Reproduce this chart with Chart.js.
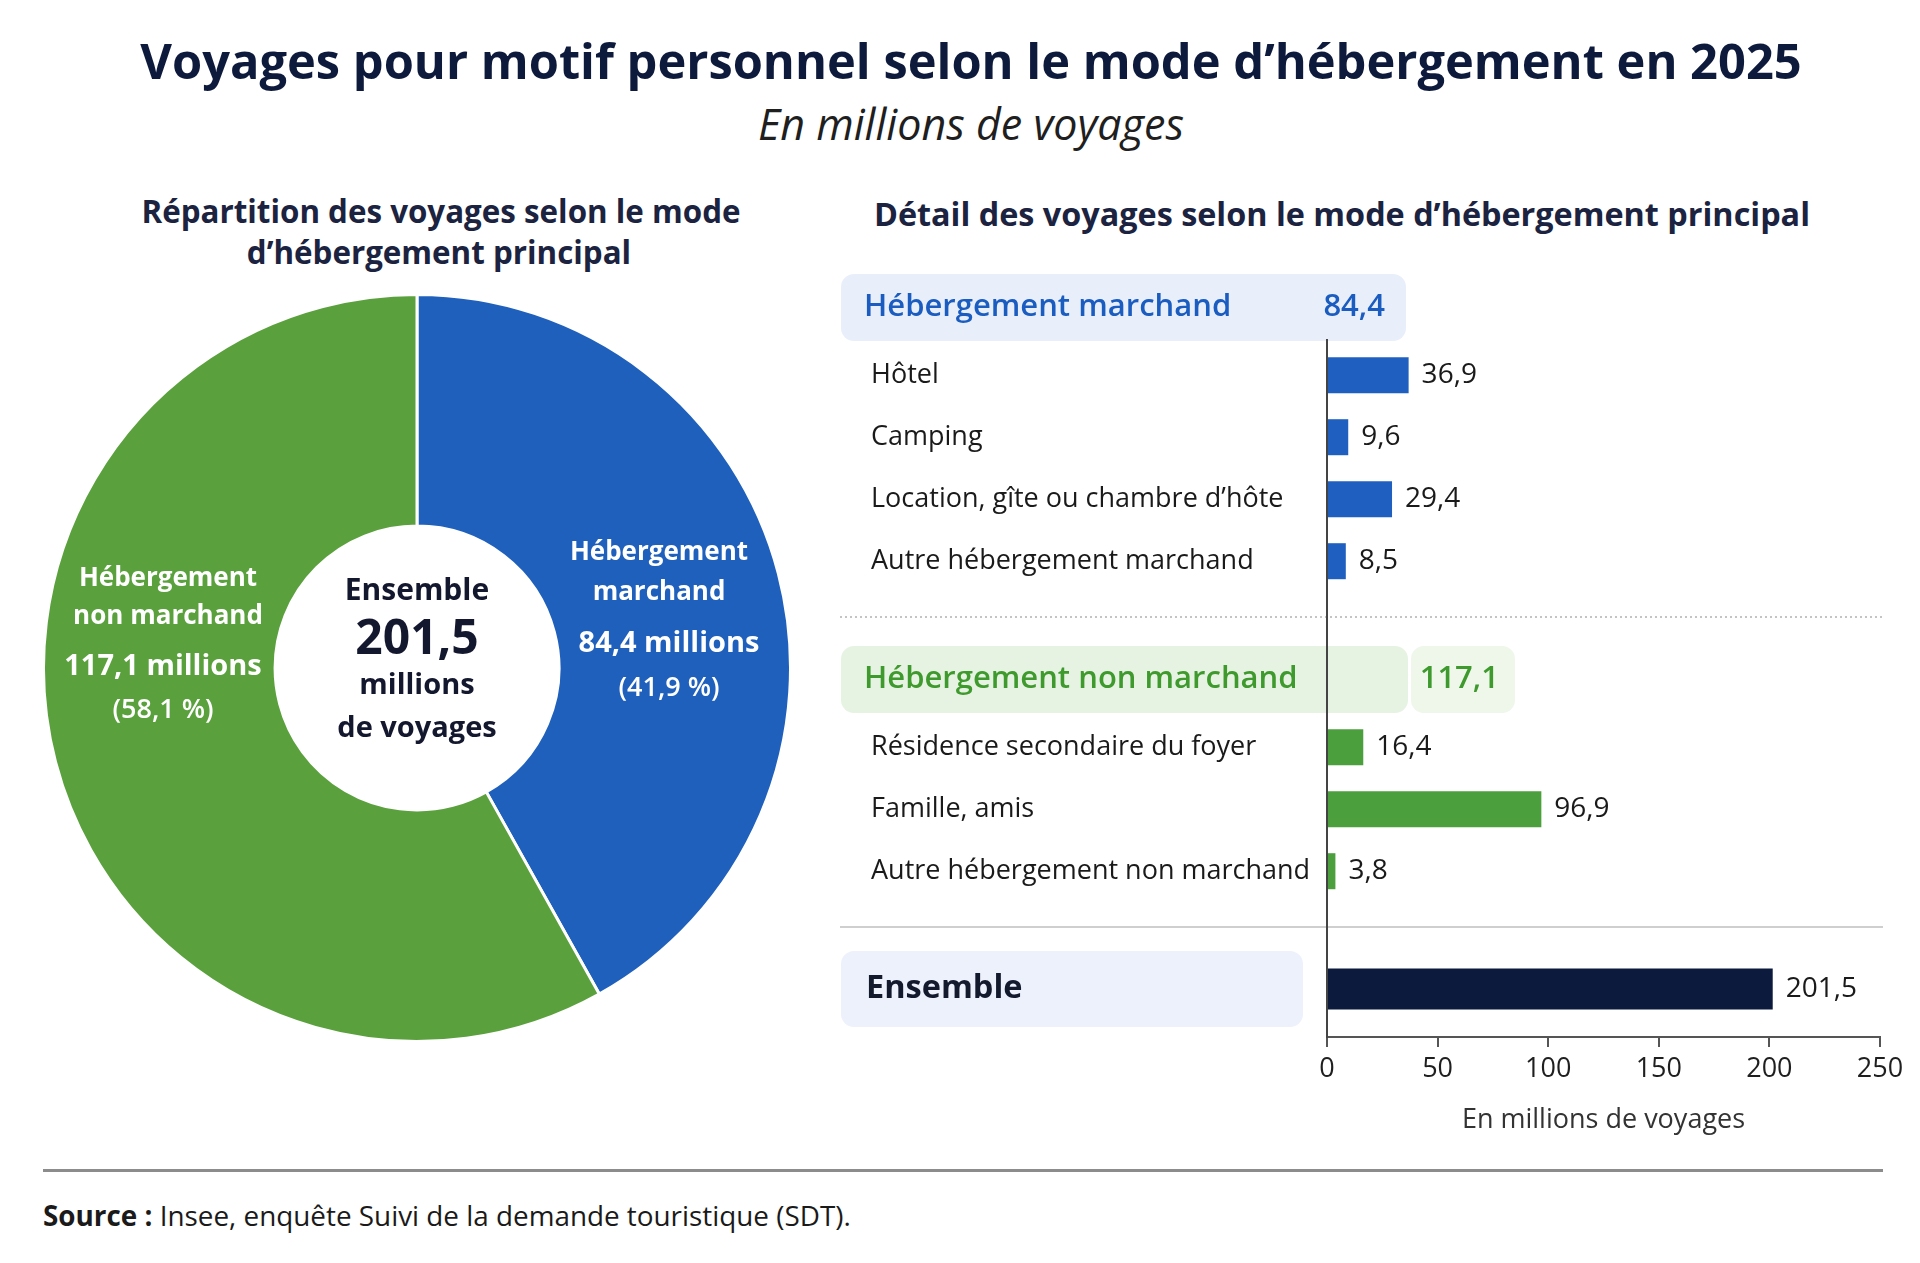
<!DOCTYPE html>
<html lang="fr">
<head>
<meta charset="utf-8">
<script src="https://cdn.jsdelivr.net/npm/chart.js@4.4.1/dist/chart.umd.min.js"></script>
<style>
html,body{margin:0;padding:0;background:#fff;}
body{width:1920px;height:1263px;position:relative;overflow:hidden;font-family:'Open Sans',sans-serif;}
.t{position:absolute;white-space:nowrap;transform:translate(-50%,-50%);line-height:1.1;}
#title{left:971px;top:61px;font-weight:700;font-size:44px;color:#0e1a3c;}
#subtitle{left:971px;top:124px;font-style:italic;font-size:32px;color:#1f1f1f;}
#hl1{left:441px;top:211px;font-weight:700;font-size:28px;color:#1b2340;}
#hl2{left:439px;top:252px;font-weight:700;font-size:28px;color:#1b2340;}
#hr{left:1342px;top:214px;font-weight:700;font-size:28px;color:#1b2340;}
#rule{position:absolute;left:43px;top:1169px;width:1840px;height:3px;background:#8c8c8c;}
#source{position:absolute;left:43px;top:1215px;transform:translateY(-50%);white-space:nowrap;font-size:26px;color:#1a1a1a;}
canvas{position:absolute;}
#donut{left:42px;top:293px;}
#bars{left:820px;top:250px;}
</style>
</head>
<body>
<div id="title" class="t">Voyages pour motif personnel selon le mode d’hébergement en 2025</div>
<div id="subtitle" class="t">En millions de voyages</div>
<div id="hl1" class="t">Répartition des voyages selon le mode</div>
<div id="hl2" class="t">d’hébergement principal</div>
<div id="hr" class="t">Détail des voyages selon le mode d’hébergement principal</div>
<div id="rule"></div>
<div id="source"><b>Source :</b> Insee, enquête Suivi de la demande touristique (SDT).</div>
<canvas id="donut" width="750" height="750"></canvas>
<canvas id="bars" width="1100" height="900"></canvas>
<script>
// ---------- DATA ----------
const groupLabels = ['Hébergement marchand', 'Hébergement non marchand'];
const groupTotals = [84.4, 117.1];
const marchandLabels = ['Hôtel', 'Camping', 'Location, gîte ou chambre d’hôte', 'Autre hébergement marchand'];
const marchandValues = [36.9, 9.6, 29.4, 8.5];
const nonMarchandLabels = ['Résidence secondaire du foyer', 'Famille, amis', 'Autre hébergement non marchand'];
const nonMarchandValues = [16.4, 96.9, 3.8];
const totalLabel = 'Ensemble';
const totalValue = 201.5;
const xTickValues = [0, 50, 100, 150, 200, 250];
const axisTitle = 'En millions de voyages';

// ---------- helpers ----------
const fmt = v => v.toFixed(1).replace('.', ',');
function fitW(id, w) {
  const el = document.getElementById(id);
  const r = el.getBoundingClientRect().width;
  const fs = parseFloat(getComputedStyle(el).fontSize);
  el.style.fontSize = (fs * w / r).toFixed(2) + 'px';
  return fs * w / r;
}
fitW('title', 1662);
fitW('subtitle', 426);
const hs = fitW('hl1', 599);
document.getElementById('hl2').style.fontSize = hs.toFixed(2) + 'px';
fitW('hr', 936);
fitW('source', 808);

Chart.defaults.font.family = "'Open Sans', sans-serif";
Chart.defaults.animation = false;

// ---------- colours ----------
const blue = '#1f60bc', green = '#5aa13d';
const barBlue = '#1e5fc0', barGreen = '#4b9f3c', navy = '#0c1a3d';
const groupBarColors = [barBlue, barGreen];
const headerText = ['#1a5cc0', '#3f9a2e'];
const headerBg = ['#e8effb', '#e7f3e2'];

// ---------- DONUT ----------
const donutTotal = groupTotals.reduce((a, b) => a + b, 0);
const donutPlugin = {
  id: 'donutText',
  afterDraw(chart) {
    const ctx = chart.ctx;
    const arc = chart.getDatasetMeta(0).data[0];
    const cx = arc.x, cy = arc.y;
    ctx.save();
    ctx.textAlign = 'center';
    ctx.textBaseline = 'middle';
    // centre
    ctx.fillStyle = '#14182e';
    ctx.font = "700 30px 'Open Sans'";
    ctx.fillText(totalLabel, cx, cy - 77);
    ctx.font = "700 48px 'Open Sans'";
    ctx.fillText(fmt(donutTotal), cx, cy - 28);
    ctx.font = "700 29px 'Open Sans'";
    ctx.fillText('millions', cx, cy + 18);
    ctx.fillText('de voyages', cx, cy + 61);
    // slice labels
    const pos = [
      {nx: 242, vx: 252, y: -115},
      {nx: -249, vx: -254, y: -89}
    ];
    const steps = [[0, 40, 91, 135], [0, 38, 88, 131]];
    ctx.fillStyle = '#ffffff';
    groupLabels.forEach((g, i) => {
      const sp = g.indexOf(' ');
      const l1 = g.slice(0, sp), l2 = g.slice(sp + 1);
      const p = pos[i], s = steps[i];
      ctx.font = "700 26px 'Open Sans'";
      ctx.fillText(l1, cx + p.nx, cy + p.y + s[0]);
      ctx.fillText(l2, cx + p.nx, cy + p.y + s[1]);
      ctx.font = "700 29px 'Open Sans'";
      ctx.fillText(fmt(groupTotals[i]) + ' millions', cx + p.vx, cy + p.y + s[2]);
      ctx.font = "600 27px 'Open Sans'";
      ctx.fillText('(' + fmt(groupTotals[i] / donutTotal * 100) + ' %)', cx + p.vx, cy + p.y + s[3]);
    });
    ctx.restore();
  }
};
new Chart(document.getElementById('donut'), {
  type: 'doughnut',
  data: {
    labels: groupLabels,
    datasets: [{
      data: groupTotals,
      backgroundColor: [blue, green],
      borderColor: '#ffffff',
      borderWidth: 3,
      hoverOffset: 0
    }]
  },
  options: {
    responsive: false,
    cutout: '38%',
    layout: {padding: 0},
    plugins: {legend: {display: false}, tooltip: {enabled: false}}
  },
  plugins: [donutPlugin]
});

// ---------- BARS ----------
// build rows (slot order) from the data arrays
const groupItemLabels = [marchandLabels, nonMarchandLabels];
const groupItemValues = [marchandValues, nonMarchandValues];
const itemShift = 0.1; // item rows sit slightly below the evenly spaced slots
const headers = [], items = [], separators = [];
let slot = 0;
groupLabels.forEach((g, gi) => {
  headers.push({label: g, value: groupTotals[gi], slot: slot++, group: gi});
  groupItemLabels[gi].forEach((l, k) => {
    items.push({label: l, value: groupItemValues[gi][k], slot: slot + itemShift, group: gi});
    slot++;
  });
  separators.push({slot: slot++, dotted: gi === 0});
});
const totalRow = {label: totalLabel, value: totalValue, slot: slot++};
const slotLabel = {};
items.forEach(r => slotLabel[r.slot] = r.label);

const headerBox = [
  [{l: 21, r: 586}],
  [{l: 21, r: 588}, {l: 591, r: 695}]
];
const headerValueRight = [565, 679];

function rrect(ctx, x, y, w, h, r) {
  ctx.beginPath();
  ctx.moveTo(x + r, y);
  ctx.arcTo(x + w, y, x + w, y + h, r);
  ctx.arcTo(x + w, y + h, x, y + h, r);
  ctx.arcTo(x, y + h, x, y, r);
  ctx.arcTo(x, y, x + w, y, r);
  ctx.closePath();
}

const barPlugin = {
  id: 'barDecor',
  beforeDraw(chart) {
    const ctx = chart.ctx, ys = chart.scales.y;
    ctx.save();
    headers.forEach(h => {
      const cy = ys.getPixelForValue(h.slot);
      headerBox[h.group].forEach((b, bi) => {
        ctx.fillStyle = bi === 0 ? headerBg[h.group] : '#eef7ea';
        rrect(ctx, b.l, cy - 33, b.r - b.l, 67, 13);
        ctx.fill();
      });
    });
    const ey = ys.getPixelForValue(totalRow.slot);
    ctx.fillStyle = '#edf1fc';
    rrect(ctx, 21, ey - 38, 462, 76, 13);
    ctx.fill();
    // separators
    separators.forEach(s => {
      const sy = ys.getPixelForValue(s.slot);
      ctx.beginPath();
      ctx.lineWidth = 2;
      if (s.dotted) { ctx.strokeStyle = '#c4c4c4'; ctx.setLineDash([2, 3]); }
      else { ctx.strokeStyle = '#cfcfcf'; ctx.setLineDash([]); }
      ctx.moveTo(20, sy); ctx.lineTo(1063, sy);
      ctx.stroke();
    });
    ctx.restore();
  },
  afterDraw(chart) {
    const ctx = chart.ctx, ys = chart.scales.y;
    ctx.save();
    ctx.textBaseline = 'middle';
    headers.forEach(h => {
      const cy = ys.getPixelForValue(h.slot);
      ctx.fillStyle = headerText[h.group];
      ctx.font = "600 31px 'Open Sans'";
      ctx.textAlign = 'left';
      ctx.fillText(h.label, 44, cy);
      ctx.textAlign = 'right';
      ctx.fillText(fmt(h.value), headerValueRight[h.group], cy);
    });
    ctx.fillStyle = '#141a2e';
    ctx.font = "700 32.5px 'Open Sans'";
    ctx.textAlign = 'left';
    ctx.fillText(totalRow.label, 46, ys.getPixelForValue(totalRow.slot));
    // value labels
    ctx.fillStyle = '#1a1a1a';
    ctx.font = "500 28px 'Open Sans'";
    chart.data.datasets.forEach((ds, di) => {
      chart.getDatasetMeta(di).data.forEach((bar, i) => {
        ctx.fillText(fmt(ds.data[i].x), bar.x + 13, bar.y);
      });
    });
    ctx.restore();
  }
};

new Chart(document.getElementById('bars'), {
  type: 'bar',
  data: {
    datasets: [
      {
        data: items.map(r => ({x: r.value, y: r.slot})),
        backgroundColor: items.map(r => groupBarColors[r.group]),
        grouped: false,
        maxBarThickness: 36,
        barPercentage: 0.9
      },
      {
        data: [{x: totalRow.value, y: totalRow.slot}],
        backgroundColor: navy,
        grouped: false,
        maxBarThickness: 41,
        barPercentage: 0.9
      }
    ]
  },
  options: {
    responsive: false,
    indexAxis: 'y',
    layout: {padding: {left: 51, right: 40, top: 90, bottom: 0}},
    plugins: {legend: {display: false}, tooltip: {enabled: false}},
    scales: {
      x: {
        type: 'linear',
        min: 0, max: 250,
        offset: false,
        afterBuildTicks: ax => { ax.ticks = xTickValues.map(v => ({value: v})); },
        afterFit: ax => { ax.height = 113; },
        grid: {drawOnChartArea: false, drawTicks: true, tickLength: 10, color: '#555', lineWidth: 2},
        border: {display: true, color: '#555', width: 2},
        ticks: {font: {size: 27}, color: '#1f1f1f', padding: 6, maxRotation: 0},
        title: {display: true, text: axisTitle, font: {size: 27}, color: '#333', padding: {top: 0, bottom: 13}}
      },
      y: {
        type: 'linear',
        reverse: true,
        offset: false,
        min: 0.532, max: 11.774,
        afterBuildTicks: ax => { ax.ticks = items.map(r => ({value: r.slot})); },
        afterFit: ax => { ax.width = 456; },
        grid: {display: false, drawTicks: false, offset: false},
        border: {display: true, color: '#444', width: 2},
        ticks: {
          autoSkip: false,
          crossAlign: 'far',
          font: {size: 27},
          color: '#1a1a1a',
          callback: v => slotLabel[v] || ''
        }
      }
    }
  },
  plugins: [barPlugin]
});
</script>
</body>
</html>
